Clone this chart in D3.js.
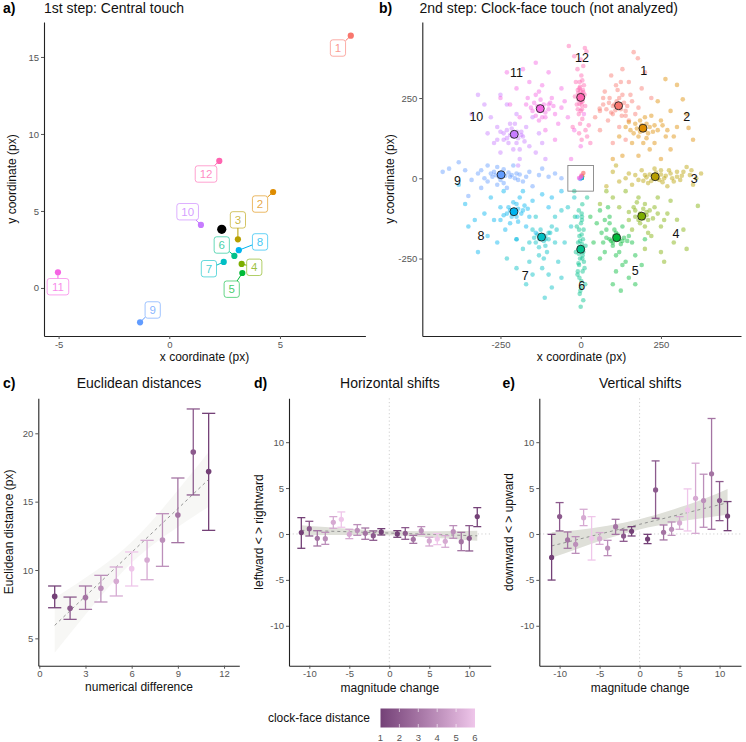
<!DOCTYPE html>
<html><head><meta charset="utf-8">
<script src="https://cdnjs.cloudflare.com/ajax/libs/d3/7.8.5/d3.min.js"></script>
<style>
body{margin:0;background:#fff;}
svg{display:block;font-family:"Liberation Sans",Arial,Helvetica,sans-serif;}
</style></head><body>
<svg id="chart" width="746" height="742"></svg>
<script>
// ---------- DATA ----------
const clockLabels = ["1","2","3","4","5","6","7","8","9","10","11","12"];
const hueColors = ["#F8766D","#DE8C00","#B79F00","#7CAE00","#00BA38","#00C08B","#00BFC4","#00B4F0","#619CFF","#C77CFF","#F564E3","#FF64B0"];
// panel a: central touch means per clock position
const centralX = [8.2, 4.69, 3.10, 3.27, 3.30, 2.94, 2.46, 3.14, -1.32, 1.43, -5.03, 2.26];
const centralY = [16.38, 6.23, 3.16, 1.56, 0.97, 2.08, 1.69, 2.45, -2.23, 4.09, 1.02, 8.25];
const labelX = [7.62, 4.10, 3.10, 3.84, 2.82, 2.37, 1.79, 4.10, -0.75, 0.83, -5.03, 1.66];
const labelY = [15.58, 5.45, 4.42, 1.34, -0.08, 2.79, 1.25, 2.99, -1.43, 4.95, 0.08, 7.40];
// panel b: clock-face touches
const touch1 = [[118,226],[90,250],[140,210],[100,200],[130,260],[70,230],[160,240],[85,180],[110,290],[150,300],[60,210],[45,190],[59,217],[120,160],[170,200],[95,320],[130,340],[165,393],[178,374],[200,330],[190,280],[75,270],[140,120],[100,110],[60,150],[220,250],[105,230],[128,195],[80,215],[150,180],
  [112,240],[125,215],[100,225],[135,235],[95,205],[145,225],[120,250],[108,212],[88,235],[155,260],[115,275],[140,195],[70,250],[180,220],[125,300]];
const touch2 = [[194,156],[170,170],[210,140],[230,165],[180,130],[155,150],[250,180],[200,190],[140,160],[120,130],[265,130],[230,110],[300,160],[336,157],[318,246],[300,291],[264,309],[280,210],[330,200],[240,240],[215,90],[180,70],[130,70],[280,90],[350,120],[160,110],[205,170],[185,145],[100,60],[250,60],
  [190,165],[200,150],[215,160],[175,155],[225,145],[185,180],[240,150],[205,125],[165,140],[255,165],[220,195],[270,150],[150,175],[195,110],[290,130]];
const touch3 = [[232,5],[200,10],[260,0],[280,15],[180,-5],[300,5],[320,20],[340,10],[150,15],[120,-10],[100,20],[210,-15],[250,25],[290,-10],[360,0],[375,15],[160,-20],[230,30],[270,-25],[310,-5],[190,25],[140,0],[330,35],[245,-5],[215,12],[80,-25],[350,-20],[110,40],
  [225,8],[240,0],[250,12],[265,8],[205,3],[285,0],[220,-8],[300,20],[255,-12],[195,-8],[315,8],[275,25],[170,10],[345,25],[235,18]];
const touch4 = [[190,-118],[170,-100],[210,-130],[230,-90],[150,-130],[250,-150],[200,-80],[180,-60],[120,-90],[100,-60],[270,-110],[300,-129],[365,-86],[320,-160],[290,-200],[250,-230],[220,-180],[160,-160],[140,-40],[80,-40],[60,-80],[200,-220],[280,-70],[330,-220],[240,-60],[185,-140],[205,-105],[260,-260],
  [185,-110],[195,-125],[180,-130],[205,-115],[170,-120],[215,-100],[195,-95],[225,-125],[165,-90],[240,-110],[200,-150],[175,-75],[260,-130],[210,-170],[150,-105]];
const touch5 = [[112,-185],[90,-190],[130,-195],[150,-180],[70,-200],[160,-200],[100,-210],[80,-160],[50,-140],[30,-120],[60,-100],[90,-120],[120,-230],[140,-260],[110,-290],[150,-310],[100,-330],[170,-240],[190,-270],[60,-250],[40,-200],[130,-150],[200,-190],[85,-90],[125,-350],[170,-330],[75,-230],[110,-170],
  [105,-180],[120,-190],[95,-195],[115,-175],[135,-185],[80,-185],[100,-200],[125,-205],[145,-195],[65,-170],[110,-240],[90,-140],[75,-130],[130,-270],[105,-160]];
const touch6 = [[0,-221],[-8,-200],[6,-240],[-4,-180],[10,-260],[-12,-150],[4,-130],[-6,-100],[12,-280],[-10,-300],[2,-320],[5,-81],[1,-340],[-3,-360],[8,-380],[-15,-230],[15,-210],[-5,-270],[9,-160],[-18,-120],[20,-60],[-2,-250],[7,-190],[-9,-290],[3,-110],[-20,-40],[14,-330],[0,-400],
  [2,-225],[-3,-215],[4,-205],[-6,-235],[5,-250],[-2,-195],[3,-175],[-7,-265],[6,-290],[-4,-310],[1,-140],[-5,-160],[8,-230],[-1,-350],[4,-120]];
const touch7 = [[-122,-183],[-100,-170],[-140,-200],[-110,-210],[-90,-150],[-150,-160],[-80,-120],[-60,-100],[-40,-90],[-130,-240],[-160,-260],[-112,-372],[-100,-300],[-70,-260],[-50,-200],[-180,-220],[-200,-190],[-140,-120],[-170,-330],[-90,-340],[-60,-310],[-30,-150],[-10,-120],[-120,-280],[-150,-300],[-200,-280],[-20,-60],[-110,-190],[-230,-250],
  [-118,-178],[-128,-190],[-110,-180],[-135,-175],[-115,-195],[-100,-190],[-145,-185],[-125,-160],[-95,-170],[-80,-200],[-130,-215],[-105,-230],[-160,-200],[-75,-160],[-115,-250]];
const touch8 = [[-208,-104],[-180,-100],[-230,-110],[-200,-80],[-160,-120],[-250,-90],[-220,-140],[-190,-60],[-150,-70],[-120,-50],[-100,-90],[-270,-130],[-300,-110],[-330,-130],[-360,-80],[-290,-180],[-260,-200],[-320,-230],[-350,-150],[-240,-40],[-170,-150],[-140,-170],[-90,-60],[-60,-40],[-200,-190],[-280,-60],[-380,-20],[-215,-120],
  [-205,-100],[-212,-110],[-195,-95],[-220,-100],[-200,-120],[-185,-110],[-225,-90],[-240,-115],[-175,-85],[-210,-75],[-195,-135],[-165,-95],[-250,-130],[-235,-160],[-180,-40]];
const touch9 = [[-248,11],[-220,5],[-270,20],[-200,15],[-300,0],[-180,-10],[-240,-15],[-260,35],[-320,15],[-340,-5],[-160,20],[-130,10],[-100,5],[-80,15],[-290,40],[-360,25],[-380,50],[-410,30],[-430,20],[-210,40],[-230,-30],[-150,-25],[-310,-30],[-120,30],[-275,5],[-195,-5],[-60,0],[-350,-55],
  [-245,15],[-235,8],[-255,5],[-225,18],[-265,10],[-250,-5],[-215,10],[-280,15],[-240,28],[-205,0],[-290,-10],[-190,12],[-260,-20],[-170,5],[-310,25]];
const touch10 = [[-207,137],[-180,130],[-230,150],[-200,110],[-170,160],[-240,120],[-210,90],[-160,100],[-260,160],[-280,190],[-300,230],[-320,260],[-340,200],[-250,80],[-190,60],[-140,80],[-130,140],[-150,190],[-200,200],[-230,230],[-270,110],[-110,60],[-220,170],[-185,145],[-290,140],[-250,260],[-120,110],[-195,40],
  [-205,140],[-212,130],[-198,145],[-220,135],[-195,125],[-215,155],[-230,125],[-185,135],[-240,140],[-225,110],[-175,115],[-205,170],[-250,145],[-190,90],[-260,120]];
const touch11 = [[-126,217],[-100,230],[-150,210],[-110,190],[-90,250],[-140,260],[-170,230],[-80,200],[-60,220],[-40,190],[-120,290],[-160,300],[-200,280],[-230,330],[-180,340],[-140,360],[-100,330],[-60,280],[-20,150],[0,100],[-30,60],[-80,120],[-110,150],[-190,190],[-220,230],[-250,250],[-130,180],[-70,170],[-50,240],[10,200],
  [-120,220],[-130,210],[-115,230],[-135,225],[-110,205],[-145,235],[-125,245],[-100,215],[-155,220],[-95,235],[-120,190],[-140,195],[-85,225],[-130,270],[-165,250]];
const touch12 = [[0,252],[-8,265],[6,240],[-4,280],[10,290],[-12,230],[4,215],[-6,200],[12,260],[-15,300],[2,320],[-10,340],[8,350],[0,370],[-20,380],[18,395],[-37,412],[13,406],[5,185],[-2,170],[15,150],[20,130],[-5,140],[25,165],[-18,255],[14,225],[-3,300],[7,275],[-9,215],[3,120],[30,110],[-25,160],
  [1,255],[-3,248],[4,262],[-5,258],[2,238],[-1,272],[6,250],[-7,245],[3,228],[-2,285],[8,268],[-4,232],[5,305],[-9,275],[0,210]];
const clockMeanX = [118, 194, 232, 190, 112, 0, -122, -208, -248, -207, -126, 0];
const clockMeanY = [226, 156, 5, -118, -185, -221, -183, -104, 11, 137, 217, 252];
const clockTextX = [196, 330, 354, 297, 170, 3, -173, -311, -384, -325, -200, 4];
const clockTextY = [335, 192, -2, -171, -286, -333, -304, -179, -8, 192, 330, 377];
// panel c
const numDiff = [1,2,3,4,5,6,7,8,9,10,11];
const eucMean = [8.07,7.20,7.98,8.66,9.17,10.10,10.73,12.20,14.02,18.63,17.20];
const eucLow  = [7.24,6.39,7.12,7.66,8.10,8.83,9.29,10.27,12.00,15.49,12.90];
const eucHigh = [8.83,8.02,8.83,9.61,10.22,11.32,12.17,14.12,16.73,21.78,21.46];
const eucFitX = [1,2,3,4,5,6,7,8,9,10,11];
const eucFit  = [5.95,7.02,8.09,9.15,10.22,11.29,12.36,13.43,14.49,15.56,16.63];
const eucFitLow  = [3.95,5.36,6.75,8.10,9.38,10.54,11.52,12.38,13.15,13.90,14.63];
const eucFitHigh = [7.95,8.68,9.43,10.20,11.06,12.04,13.20,14.48,15.83,17.22,18.63];
// panels d, e
const magChange = [-11,-10,-9,-8,-7,-6,-5,-4,-3,-2,-1,1,2,3,4,5,6,7,8,9,10,11];
const horMean = [0.15,0.58,-0.47,-0.51,1.27,1.60,-0.04,0.40,0.07,-0.18,0.22,0.00,0.07,-0.58,0.36,-0.76,-0.55,-0.80,0.25,-0.84,-0.47,1.89];
const horLow  = [-1.56,-0.22,-1.31,-1.13,0.62,0.73,-0.51,-0.15,-0.58,-0.69,-0.11,-0.36,-0.58,-1.02,-0.04,-1.31,-1.16,-1.45,-0.47,-1.82,-1.85,0.80];
const horHigh = [1.78,1.38,0.36,0.18,1.89,2.40,0.51,1.02,0.65,0.33,0.58,0.36,0.69,-0.15,0.80,-0.36,0.04,-0.18,0.91,0.18,0.91,2.87];
const verMean = [-2.55,1.89,-0.65,-1.13,1.78,-0.47,-0.51,-1.53,0.80,-0.22,0.29,-0.55,4.80,0.18,0.51,1.20,2.62,3.89,3.64,6.55,3.64,1.96];
const verLow  = [-5.02,0.33,-1.56,-2.11,0.91,-2.84,-1.13,-2.36,-0.04,-0.80,-0.22,-1.05,1.71,-0.65,-0.15,0.51,0.33,0.07,0.73,0.51,1.45,0.36];
const verHigh = [-0.04,3.42,0.22,-0.29,2.69,1.89,0.15,-0.69,1.60,0.44,0.80,-0.04,7.96,0.98,1.31,1.89,4.91,7.71,6.51,12.58,5.71,3.53];
const shiftFitX = [-11,-8,-4,0,4,8,11];
const horFit = [0.40,0.32,0.21,0.10,-0.01,-0.12,-0.20];
const horFitLow = [-0.15,-0.12,-0.10,-0.15,-0.32,-0.55,-0.75];
const horFitHigh = [0.95,0.76,0.52,0.35,0.30,0.32,0.35];
const verFit = [-1.30,-0.66,0.20,1.05,1.90,2.76,3.40];
const verFitLow = [-2.60,-1.68,-0.50,0.50,1.20,1.74,2.10];
const verFitHigh = [0.20,0.40,0.90,1.60,2.60,3.80,4.90];
const legendTicks = [1,2,3,4,5,6];

// ---------- DRAWING ----------
const svg = d3.select("#chart");
const FONT_TICK = 9.5, TICK_COL = "#555";
const distColor = d3.scaleLinear().domain([1,6]).range(["#744177","#EFC6EA"]).interpolate(d3.interpolateLab);
const clockDist = m => Math.min(Math.abs(m), 12 - Math.abs(m));

function axes(xs, ys, xt, yt){
  const gx = svg.append("g").attr("transform", `translate(0,${ys.range()[0]})`)
    .call(d3.axisBottom(xs).tickValues(xt).tickFormat(d=>String(d)).tickSize(3).tickSizeOuter(0).tickPadding(2));
  const gy = svg.append("g").attr("transform", `translate(${xs.range()[0]},0)`)
    .call(d3.axisLeft(ys).tickValues(yt).tickFormat(d=>String(d)).tickSize(3).tickSizeOuter(0).tickPadding(2));
  [gx, gy].forEach(g=>{
    g.select(".domain").attr("stroke","#222").attr("stroke-width",1.1);
    g.selectAll(".tick line").attr("stroke","#555");
    g.selectAll(".tick text").attr("fill",TICK_COL).style("font-size",FONT_TICK+"px").style("font-family","Liberation Sans, Arial, sans-serif");
  });
}
function titles(letter, lx, title, tx, anchor, ty){
  svg.append("text").attr("x",lx).attr("y",ty).text(letter).style("font-size","14px").style("font-weight","bold").attr("fill","#000");
  svg.append("text").attr("x",tx).attr("y",ty).attr("text-anchor",anchor).text(title).style("font-size","14px").attr("fill","#111");
}
function xTitle(t, x, y){ svg.append("text").attr("x",x).attr("y",y).attr("text-anchor","middle").text(t).style("font-size","12px").attr("fill","#111"); }
function yTitle(t, x, y){ svg.append("text").attr("transform",`translate(${x},${y}) rotate(-90)`).attr("text-anchor","middle").text(t).style("font-size","12px").attr("fill","#111"); }

// ----- Panel a -----
{
  const xs = d3.scaleLinear().domain([-5.66, 8.86]).range([44, 365.4]);
  const ys = d3.scaleLinear().domain([-3.12, 17.27]).range([336, 22]);
  axes(xs, ys, [-5,0,5], [0,5,10,15]);
  titles("a)", 3, "1st step: Central touch", 44, "start", 13);
  xTitle("x coordinate (px)", 204.5, 361);
  yTitle("y coordinate (px)", 16, 179);
  const g = svg.append("g");
  centralX.forEach((cx,i)=>{
    const px = xs(cx), py = ys(centralY[i]);
    const lx = xs(labelX[i]), ly = ys(labelY[i]);
    const hw = clockLabels[i].length>1 ? 10.8 : 7.6, hh = 8.2;
    const dx = px-lx, dy = py-ly;
    const s = Math.min(dx===0?Infinity:hw/Math.abs(dx), dy===0?Infinity:hh/Math.abs(dy));
    if (s < 1){
      const ex = lx+dx*s, ey = ly+dy*s;
      if (Math.hypot(px-ex, py-ey) > 3)
        g.append("line").attr("x1",px).attr("y1",py).attr("x2",ex).attr("y2",ey).attr("stroke",hueColors[i]).attr("stroke-width",1);
    }
  });
  centralX.forEach((cx,i)=>{
    g.append("circle").attr("cx",xs(cx)).attr("cy",ys(centralY[i])).attr("r",3.1).attr("fill",hueColors[i]);
  });
  g.append("circle").attr("cx",xs(d3.mean(centralX))).attr("cy",ys(d3.mean(centralY))).attr("r",4.6).attr("fill","#000");
  centralX.forEach((cx,i)=>{
    const lx = xs(labelX[i]), ly = ys(labelY[i]);
    const hw = clockLabels[i].length>1 ? 10.8 : 7.6, hh = 8.2;
    g.append("rect").attr("x",lx-hw).attr("y",ly-hh).attr("width",2*hw).attr("height",2*hh).attr("rx",2.5)
      .attr("fill","#fff").attr("stroke",hueColors[i]).attr("stroke-opacity",0.6).attr("stroke-width",1);
    g.append("text").attr("x",lx).attr("y",ly+4).attr("text-anchor","middle").text(clockLabels[i])
      .style("font-size","11.5px").attr("fill",hueColors[i]).attr("fill-opacity",0.75);
  });
}

// ----- Panel b -----
{
  const xs = d3.scaleLinear().domain([-493.5, 499.4]).range([422.3, 741]);
  const ys = d3.scaleLinear().domain([-491.3, 486.9]).range([336, 22]);
  axes(xs, ys, [-250,0,250], [-250,0,250]);
  titles("b)", 379, "2nd step: Clock-face touch (not analyzed)", 419.5, "start", 13);
  xTitle("x coordinate (px)", 581.5, 361);
  yTitle("y coordinate (px)", 394, 179);
  const touches = [touch1,touch2,touch3,touch4,touch5,touch6,touch7,touch8,touch9,touch10,touch11,touch12];
  const g = svg.append("g");
  touches.forEach((arr,i)=>{
    g.selectAll(null).data(arr).enter().append("circle")
      .attr("cx",d=>xs(d[0])).attr("cy",d=>ys(d[1])).attr("r",2.3)
      .attr("fill",hueColors[i]).attr("fill-opacity",0.45);
  });
  // central window
  g.append("rect").attr("x",xs(-40)).attr("y",ys(40)).attr("width",xs(40)-xs(-40)).attr("height",ys(-40)-ys(40))
    .attr("fill","none").attr("stroke","#777").attr("stroke-width",0.8);
  centralX.forEach((cx,i)=>{
    g.append("circle").attr("cx",xs(cx)).attr("cy",ys(centralY[i])).attr("r",2.3).attr("fill",hueColors[i]).attr("fill-opacity",0.7);
  });
  clockMeanX.forEach((mx,i)=>{
    g.append("circle").attr("cx",xs(mx)).attr("cy",ys(clockMeanY[i])).attr("r",4).attr("fill",hueColors[i]).attr("stroke","#222").attr("stroke-width",0.9);
    g.append("text").attr("x",xs(clockTextX[i])).attr("y",ys(clockTextY[i])+4.5).attr("text-anchor","middle")
      .text(clockLabels[i]).style("font-size","12.5px").attr("fill","#111");
  });
}

// ----- helpers for bottom panels -----
function errPanel(xs, ys, xv, mean, lo, hi, colorOf, capHalf, r){
  const g = svg.append("g");
  xv.forEach((x,i)=>{
    const c = colorOf(x), px = xs(x);
    g.append("line").attr("x1",px).attr("x2",px).attr("y1",ys(lo[i])).attr("y2",ys(hi[i])).attr("stroke",c).attr("stroke-width",1.3);
    g.append("line").attr("x1",px-capHalf).attr("x2",px+capHalf).attr("y1",ys(lo[i])).attr("y2",ys(lo[i])).attr("stroke",c).attr("stroke-width",1.3);
    g.append("line").attr("x1",px-capHalf).attr("x2",px+capHalf).attr("y1",ys(hi[i])).attr("y2",ys(hi[i])).attr("stroke",c).attr("stroke-width",1.3);
  });
  xv.forEach((x,i)=>{
    g.append("circle").attr("cx",xs(x)).attr("cy",ys(mean[i])).attr("r",r).attr("fill",colorOf(x));
  });
}
function fitBand(xs, ys, fx, fit, flo, fhi, fill){
  const area = d3.area().x((d,i)=>xs(fx[i])).y0((d,i)=>ys(flo[i])).y1((d,i)=>ys(fhi[i])).curve(d3.curveMonotoneX);
  svg.append("path").datum(fx).attr("d",area).attr("fill",fill);
  const line = d3.line().x((d,i)=>xs(fx[i])).y((d,i)=>ys(fit[i]));
  svg.append("path").datum(fx).attr("d",line).attr("fill","none").attr("stroke","#8a8a8a").attr("stroke-width",0.9).attr("stroke-dasharray","3,3");
}

// ----- Panel c -----
{
  const xs = d3.scaleLinear().domain([-0.065, 12.99]).range([38.3, 239.3]);
  const ys = d3.scaleLinear().domain([3.0, 22.56]).range([665.7, 398.3]);
  fitBand(xs, ys, eucFitX, eucFit, eucFitLow, eucFitHigh, "#f7f7f5");
  errPanel(xs, ys, numDiff, eucMean, eucLow, eucHigh, x=>distColor(clockDist(x)), 6.6, 2.8);
  axes(xs, ys, [0,3,6,9,12], [5,10,15,20]);
  titles("c)", 3, "Euclidean distances", 139, "middle", 388);
  xTitle("numerical difference", 139, 691);
  yTitle("Euclidean distance (px)", 13, 532);
}

// ----- Panels d & e -----
function shiftPanel(x0, x1, letter, letterX, title, ytitle, ytX, mean, lo, hi, fit, flo, fhi){
  const xs = d3.scaleLinear().domain([-12.54, 12.68]).range([x0, x1]);
  const ys = d3.scaleLinear().domain([-14.35, 14.78]).range([665.7, 398.3]);
  svg.append("line").attr("x1",xs(0)).attr("x2",xs(0)).attr("y1",398.3).attr("y2",665.7).attr("stroke","#cfcfcf").attr("stroke-dasharray","1.2,2.5").attr("stroke-width",1);
  svg.append("line").attr("x1",x0).attr("x2",x1).attr("y1",ys(0)).attr("y2",ys(0)).attr("stroke","#cfcfcf").attr("stroke-dasharray","1.2,2.5").attr("stroke-width",1);
  fitBand(xs, ys, shiftFitX, fit, flo, fhi, "#dfe0d9");
  errPanel(xs, ys, magChange, mean, lo, hi, x=>distColor(clockDist(x)), 4, 2.6);
  axes(xs, ys, [-10,-5,0,5,10], [-10,-5,0,5,10]);
  titles(letter, letterX, title, (x0+x1)/2, "middle", 388);
  xTitle("magnitude change", (x0+x1)/2, 692);
  yTitle(ytitle, ytX, 532);
}
shiftPanel(289, 490.7, "d)", 254, "Horizontal shifts", "leftward < > rightward", 263, horMean, horLow, horHigh, horFit, horFitLow, horFitHigh);
shiftPanel(539.3, 741, "e)", 502.5, "Vertical shifts", "downward < > upward", 513, verMean, verLow, verHigh, verFit, verFitLow, verFitHigh);

// ----- Legend -----
{
  const lg = d3.scaleLinear().domain([1,6]).range([380.5, 475]);
  const defs = svg.append("defs");
  const grad = defs.append("linearGradient").attr("id","lgrad").attr("x1","0%").attr("x2","100%");
  d3.range(0, 1.0001, 0.1).forEach(t=>{
    grad.append("stop").attr("offset",(t*100)+"%").attr("stop-color",distColor(1+5*t));
  });
  svg.append("rect").attr("x",lg(1)).attr("y",708.5).attr("width",lg(6)-lg(1)).attr("height",19).attr("fill","url(#lgrad)");
  legendTicks.forEach(v=>{
    if (v>1 && v<6){
      svg.append("line").attr("x1",lg(v)).attr("x2",lg(v)).attr("y1",708.5).attr("y2",712).attr("stroke","#fff").attr("stroke-opacity",0.6);
      svg.append("line").attr("x1",lg(v)).attr("x2",lg(v)).attr("y1",724).attr("y2",727.5).attr("stroke","#fff").attr("stroke-opacity",0.6);
    }
    svg.append("text").attr("x",lg(v)).attr("y",740.5).attr("text-anchor","middle").text(String(v)).style("font-size",FONT_TICK+"px").attr("fill",TICK_COL);
  });
  svg.append("text").attr("x",370).attr("y",722).attr("text-anchor","end").text("clock-face distance").style("font-size","12px").attr("fill","#111");
}
</script>
</body></html>
